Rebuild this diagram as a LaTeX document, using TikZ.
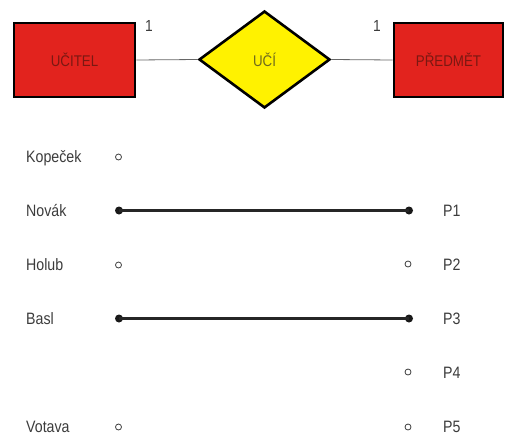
\documentclass[tikz,border=0pt]{standalone}
\usepackage{fontspec}
\setmainfont{Liberation Sans}[FakeStretch=0.86]
\usetikzlibrary{shapes.geometric}
\definecolor{entred}{HTML}{E2231E}
\definecolor{entink}{HTML}{7A1812}
\definecolor{relyellow}{HTML}{FFF200}
\definecolor{relink}{HTML}{6E6A1E}
\definecolor{labelgray}{HTML}{3C3C3C}
\tikzset{
  entity/.style={draw=black, line width=2.6pt, fill=entred, text=entink,
    font=\fontsize{15.5}{16}\selectfont, inner sep=0pt},
  relation/.style={diamond, draw=black, line width=2.6pt, fill=relyellow,
    text=relink, font=\fontsize{15.5}{16}\selectfont, inner sep=0pt,
    aspect=1.35, minimum width=131pt, minimum height=97pt},
  link/.style={draw=gray!80!black, line width=0.8pt},
  card/.style={text=labelgray, font=\fontsize{16}{17}\selectfont, inner sep=0pt},
  itemlabel/.style={text=labelgray, font=\fontsize{16.5}{17}\selectfont, inner sep=0pt, anchor=base west},
  freept/.style={circle, draw=labelgray, line width=0.8pt, minimum width=6pt,
    minimum height=6pt, inner sep=0pt},
  boundpt/.style={circle, fill=black!90, minimum size=8pt, inner sep=0pt},
  pairing/.style={draw=black!85, line width=2.4pt}
}
\begin{document}
\begin{tikzpicture}[x=1pt,y=-1pt]
  \useasboundingbox (0,0) rectangle (506,434);

  % entity-relationship header
  \node[entity, minimum width=121pt, minimum height=74pt] (ucitel) at (74.5,60) {UČITEL};
  \node[relation] (uci) at (264.5,59.5) {UČÍ};
  \node[entity, minimum width=109pt, minimum height=74pt] (predmet) at (448.5,60) {PŘEDMĚT};
  \draw[link] (ucitel.east) -- (uci.west);
  \draw[link] (uci.east) -- (predmet.west);
  \node[card] (c1) at (149,26) {1};
  \node[card] (c2) at (377,26) {1};

  % teachers
  \node[itemlabel] (kopecek) at (26,162) {Kopeček};
  \node[itemlabel] (novak)   at (26,216) {Novák};
  \node[itemlabel] (holub)   at (26,270) {Holub};
  \node[itemlabel] (basl)    at (26,324) {Basl};
  \node[itemlabel] (votava)  at (26,432) {Votava};

  % subjects
  \node[itemlabel] (p1) at (443,216) {P1};
  \node[itemlabel] (p2) at (443,270) {P2};
  \node[itemlabel] (p3) at (443,324) {P3};
  \node[itemlabel] (p4) at (443,378) {P4};
  \node[itemlabel] (p5) at (443,432) {P5};

  % unpaired elements
  \node[freept] (kL) at (118.5,157) {};
  \node[freept] (hL) at (118.5,265) {};
  \node[freept] (vL) at (118.5,427) {};
  \node[freept] (p2R) at (408,264) {};
  \node[freept] (p4R) at (408,372) {};
  \node[freept] (p5R) at (408,427) {};

  % paired elements
  \node[boundpt] (nL) at (119,210.5) {};
  \node[boundpt] (p1R) at (409,210.5) {};
  \node[boundpt] (bL) at (119,318.5) {};
  \node[boundpt] (p3R) at (409,318.5) {};
  \draw[pairing] (nL.center) -- (p1R.center);
  \draw[pairing] (bL.center) -- (p3R.center);
\end{tikzpicture}
\end{document}
